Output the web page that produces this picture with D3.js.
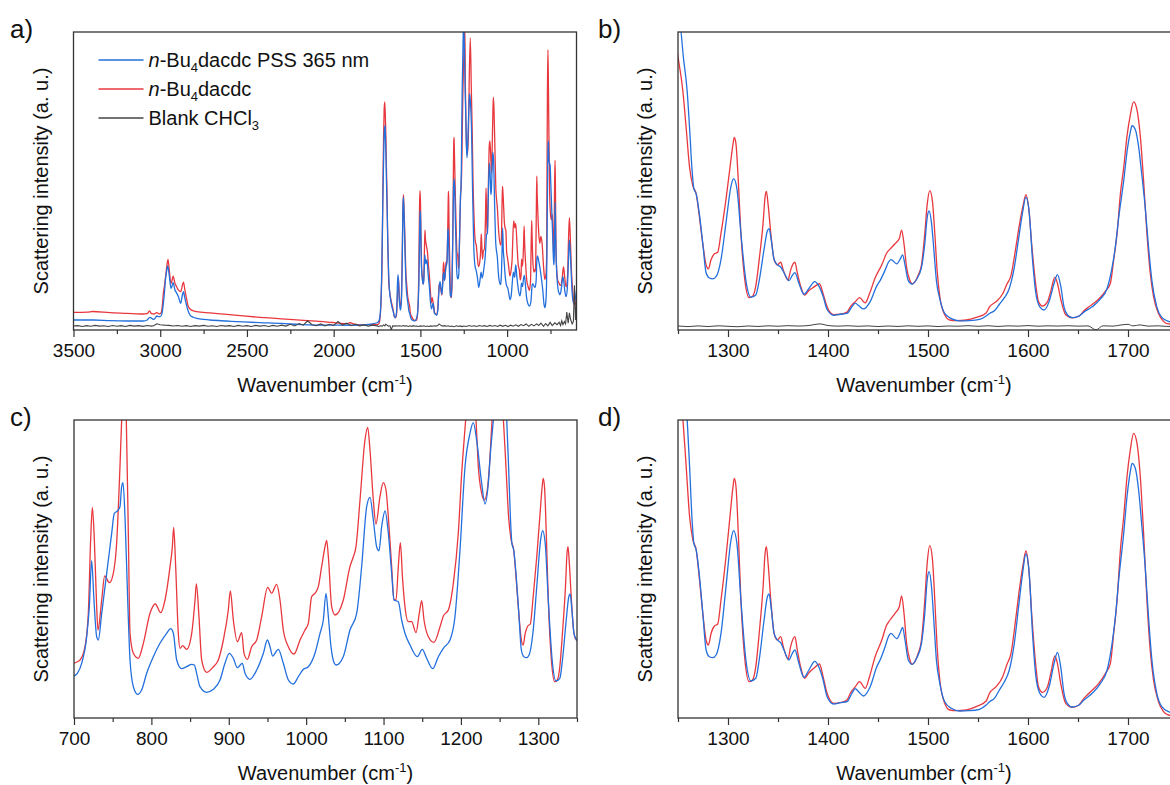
<!DOCTYPE html>
<html>
<head>
<meta charset="utf-8">
<script src="https://cdn.jsdelivr.net/npm/d3@7"></script>
<style>
  body { margin: 0; background: #fff; }
  svg text { font-family: "Liberation Sans", Arial, sans-serif; fill: #111; }
</style>
</head>
<body>
<div id="chart"></div>
<script>

// [wavenumber (cm-1), intensity (a. u.)]
const pssSpectrum = [
  [596, 52], [602, 42], [608, 34], [617, 29], [625, 42], [633, 80], [641, 109.5], [647, 80], [653, 48], [660, 37.6],
  [668, 46], [674, 58], [679, 63], [685, 52], [692, 42], [696, 40],
  [700, 42], [704.3, 44.7], [709.9, 54.7], [716.4, 81.3], [719.8, 111.3], [722.8, 157.3], [725.8, 118], [729.3, 81.3],
  [731.4, 78], [735.8, 104.7], [740.1, 131.3], [744.4, 158], [748.7, 184.7], [752.1, 204.7], [756.0, 207], [759.4, 211.3],
  [761.6, 231.3], [763.3, 235.3], [765.9, 201.3], [769.4, 118], [772.4, 58], [776.7, 31.3], [782.3, 23.7], [787.4, 28],
  [793.9, 44.7], [802.5, 61.3], [811.1, 74.7], [819.7, 84.7], [824.9, 89.3], [828.4, 84.7], [832.7, 58], [839.1, 49.3],
  [845.6, 51.3], [852.1, 53.7], [855.5, 53], [858.5, 44.7], [862.8, 31.3], [871.4, 25.7], [880.1, 28.7], [888.7, 38],
  [895.1, 54.7], [900.7, 64.7], [905.9, 59.7], [911.1, 50.3], [917.5, 54.7], [921.0, 44.7], [927.4, 38.7], [936.1, 48],
  [944.7, 64.7], [949.9, 78], [953.3, 71.3], [956.7, 62], [964.0, 68.7], [970.5, 54.7], [977.0, 38], [983.4, 34],
  [989.9, 41.3], [996.4, 48.7], [1002.8, 51.3], [1011.4, 64.7], [1017.9, 84.7], [1022.2, 98], [1025.6, 124.7], [1028.7, 101.3],
  [1032.1, 71.3], [1036.4, 54.7], [1038.6, 53], [1048.0, 61.3], [1056.6, 88], [1065.3, 104.7], [1071.7, 151.3], [1078.2, 211.3],
  [1082.5, 220.7], [1086.8, 198], [1091.1, 171.3], [1094.1, 167.3], [1097.6, 191.3], [1101.9, 207], [1106.2, 184.7], [1110.5, 144.7],
  [1113.5, 118], [1119.1, 116.3], [1123.4, 98], [1127.7, 84.7], [1134.2, 73], [1143.7, 61.3], [1150.1, 68.7], [1155.7, 59.7],
  [1163.5, 49.3], [1170.8, 61.3], [1177.3, 69.7], [1185.9, 78], [1192.3, 101.3], [1198.8, 168], [1205.3, 251.3], [1211.7, 284.7],
  [1216.0, 295.3], [1220.3, 278], [1226.8, 234.7], [1231.1, 214], [1235.4, 234.7], [1238.4, 268], [1241.9, 298], [1246.5, 355],
  [1251.5, 385], [1255.5, 340], [1259.2, 298], [1261.6, 251.3], [1263.9, 201.3], [1265.9, 174.7], [1268.2, 168], [1271.5, 141.3],
  [1274.8, 104.7], [1278.1, 68], [1281.4, 61.3], [1284.8, 60.3], [1288.1, 63], [1293.0, 84.7], [1298.0, 131.3], [1303.0, 178],
  [1305.6, 187.3], [1308.9, 174.7], [1312.9, 118], [1317.9, 58], [1322.9, 37], [1327.8, 39.7], [1331.2, 58], [1336.1, 98],
  [1339.4, 121.3], [1341.1, 124], [1343.4, 108], [1346.1, 84.7], [1349.4, 78], [1352.7, 75.3], [1356.0, 68], [1361.0, 58],
  [1364.3, 64.7], [1366.9, 68], [1370.9, 54.7], [1375.9, 40.7], [1380.9, 48], [1386.8, 56.7], [1390.8, 51.3], [1395.1, 38],
  [1399.1, 21.3], [1405.7, 14], [1412.3, 15.3], [1419.0, 16.3], [1423.9, 24.7], [1427.3, 29.3], [1430.6, 26.3], [1435.5, 22],
  [1442.2, 31.3], [1448.8, 51.3], [1452.1, 58], [1457.1, 71.3], [1460.4, 81.3], [1463.0, 84.7], [1468.7, 79.3], [1472.6, 86.3],
  [1474.6, 90.7], [1477.0, 78], [1480.3, 58], [1484.2, 53.7], [1488.6, 59.7], [1493.5, 74.7], [1496.8, 104.7], [1499.2, 138],
  [1501.1, 146.3], [1503.5, 131.3], [1505.8, 98], [1508.4, 58], [1511.8, 34.7], [1516.7, 16.3], [1523.4, 9.7], [1531.6, 7],
  [1541.6, 7.3], [1551.5, 8.7], [1558.2, 13], [1561.5, 16.3], [1566.4, 19.7], [1571.4, 28], [1576.4, 36.3], [1581.3, 48],
  [1586.3, 74.7], [1590.6, 111.3], [1594.6, 144.7], [1597.9, 164], [1601.2, 144.7], [1604.5, 84.7], [1607.9, 41.3], [1611.8, 24.7],
  [1616.1, 20.7], [1621.1, 31.3], [1626.1, 54.7], [1629.4, 65.7], [1632.7, 51.3], [1636.0, 24.7], [1639.3, 14.7], [1644.3, 11],
  [1651.0, 13], [1655.9, 18], [1664.2, 24.7], [1672.5, 34.7], [1679.1, 48], [1684.1, 74.7], [1687.4, 101.3], [1690.7, 138],
  [1695.7, 184.7], [1699.0, 221.3], [1702.3, 246.3], [1704.0, 254.7], [1707.3, 249.7], [1710.6, 228], [1713.9, 191.3], [1717.2, 151.3],
  [1720.5, 101.3], [1723.9, 58], [1728.8, 24.7], [1733.8, 11.3], [1740.4, 6.3], [1750, 4.5], [1800, 2.5], [1850, 1.5],
  [1900, 1.3], [2000, 1.5], [2100, 1.6], [2194, 2.2], [2300, 3.6], [2425, 4.6], [2521, 5.5], [2617, 6.7],
  [2713, 8], [2790, 10.1], [2810, 11.5], [2828, 14.3], [2840, 20], [2851, 29.1], [2860, 38], [2866, 43.9],
  [2872, 40], [2882, 29.1], [2895, 37.6], [2905, 42], [2915, 46.1], [2926, 55.4], [2932, 51], [2938, 48.2],
  [2947, 63], [2957, 76.5], [2963, 70], [2970, 58.8], [2976, 42], [2982, 29.1], [2990, 16], [3000, 12.2],
  [3008, 12.2], [3020, 13.1], [3030, 10], [3040, 8.8], [3060, 11.4], [3075, 8], [3097, 6.7], [3193, 6.7],
  [3290, 7.1], [3385, 8], [3500, 8]
]

const darkSpectrum = [
  [596, 40], [602, 33], [607, 28], [612, 27], [621, 42], [630, 75], [636, 115], [641, 138], [646, 110], [652, 62],
  [660, 50], [668, 62], [675, 75.6], [682, 62], [690, 52], [695, 52],
  [700, 54.7], [707.8, 58], [714.2, 71.3], [718.5, 104.7], [721.5, 178], [723.7, 210.7], [726.3, 178], [729.3, 111.3],
  [731.0, 88], [735.8, 118], [739.6, 142], [745.7, 135.3], [750.8, 144.7], [755.1, 174.7], [759.4, 251.3], [761.6, 298],
  [764.5, 351], [767.6, 298], [770.2, 184.7], [772.4, 84.7], [776.7, 64.7], [783.1, 59.7], [789.6, 74.7], [798.2, 104.7],
  [805.1, 114], [812.0, 105.3], [817.6, 118], [824.1, 151.3], [827.1, 171.3], [828.8, 190.7], [831.4, 151.3], [834.8, 84.7],
  [837.0, 69.7], [840.4, 72.3], [845.6, 68.7], [852.1, 84.7], [856.4, 118], [858.1, 134], [861.5, 101.3], [865.0, 58],
  [871.4, 45.7], [880.1, 51.3], [886.5, 58], [893.0, 78], [899.4, 108], [902.0, 127], [905.9, 98], [911.1, 76.3],
  [916.7, 85.3], [919.7, 64.7], [924.0, 58.7], [929.6, 71.3], [936.1, 78], [942.5, 101.3], [950.3, 130.7], [955.4, 124.7],
  [961.9, 133.7], [966.2, 118], [970.5, 88], [977.0, 71.3], [984.3, 64], [992.1, 78], [998.5, 88], [1002.8, 94.7],
  [1007.1, 121.3], [1011.4, 124.7], [1015.7, 131.3], [1020.0, 151.3], [1024.4, 171.3], [1026.5, 177.7], [1028.7, 161.3], [1033.0, 111.3],
  [1037.3, 103], [1048.0, 118], [1056.6, 151.3], [1061.0, 161.3], [1064.4, 171.3], [1069.6, 218], [1076.0, 278], [1079.5, 290.7],
  [1082.5, 268], [1086.8, 218], [1090.2, 194], [1095.4, 221.3], [1099.7, 235.3], [1103.2, 228], [1106.2, 201.3], [1110.5, 151.3],
  [1113.5, 118], [1116.1, 118], [1119.1, 151.3], [1121.7, 175.3], [1124.7, 138], [1127.7, 111.3], [1132.0, 96.3], [1136.3, 96.3],
  [1141.9, 85.3], [1146.2, 104.7], [1149.3, 117.3], [1152.3, 98], [1157.9, 81.3], [1165.2, 75.7], [1173.0, 91.3], [1177.3, 102],
  [1183.7, 108], [1190.2, 134.7], [1196.6, 184.7], [1201.0, 244.7], [1206.1, 298], [1212.5, 366], [1219.5, 298], [1222.5, 251.3],
  [1226.8, 224.7], [1230.2, 218], [1234.1, 228], [1237.6, 261.3], [1240.2, 298], [1244.5, 385], [1250, 342], [1254.9, 298],
  [1258.2, 251.3], [1261.6, 201.3], [1264.9, 178], [1268.2, 168], [1271.5, 138], [1274.8, 104.7], [1278.1, 78], [1280.4, 73],
  [1283.1, 84.7], [1286.4, 92], [1289.7, 94], [1293.0, 118], [1298.0, 161.3], [1302.3, 204.7], [1305.0, 231.3], [1306.3, 239.7],
  [1308.0, 231.3], [1310.3, 184.7], [1312.9, 118], [1316.9, 58], [1321.2, 36.3], [1324.5, 38], [1327.8, 51.3], [1331.2, 84.7],
  [1335.1, 131.3], [1337.1, 164.7], [1338.4, 171.3], [1340.1, 154.7], [1342.8, 118], [1346.1, 84.7], [1349.4, 78], [1352.7, 81.3],
  [1355.3, 71.3], [1360.0, 58.7], [1362.6, 71.3], [1366.9, 81.3], [1369.3, 68], [1372.6, 51.3], [1376.6, 39.7], [1380.9, 45.3],
  [1385.8, 49.7], [1391.5, 54], [1395.1, 41.3], [1399.1, 24.7], [1405.7, 14.7], [1412.3, 15.3], [1419.0, 18], [1422.3, 24.7],
  [1427.3, 31.3], [1431.6, 36.3], [1437.2, 29.7], [1441.5, 41.3], [1447.1, 61.3], [1453.8, 78], [1458.7, 93], [1462.0, 98],
  [1467.0, 104.7], [1471.3, 111.3], [1473.6, 122], [1476.0, 104.7], [1478.6, 74.7], [1481.9, 58], [1484.2, 53.7], [1486.9, 56.3],
  [1490.2, 64.7], [1493.5, 78], [1496.8, 118], [1499.2, 154.7], [1501.8, 172.3], [1504.5, 158], [1506.8, 118], [1509.1, 71.3],
  [1511.8, 38], [1516.7, 14.7], [1521.7, 8], [1528.3, 7.3], [1538.3, 8], [1548.2, 11.3], [1558.2, 17], [1561.5, 24.7],
  [1568.1, 31.3], [1574.7, 41.3], [1578.7, 53], [1583.0, 64.7], [1588.0, 101.3], [1591.3, 128], [1595.3, 154.7], [1597.9, 167],
  [1600.6, 151.3], [1603.9, 101.3], [1607.9, 51.3], [1610.5, 31.3], [1614.5, 25.7], [1619.5, 31.3], [1622.8, 44.7], [1626.8, 62],
  [1629.4, 54.7], [1632.7, 34.7], [1637.7, 14.7], [1644.3, 10.7], [1651.0, 13], [1655.9, 19.7], [1660.9, 24.7], [1670.8, 34.7],
  [1677.5, 44.7], [1682.4, 54.7], [1685.7, 84.7], [1689.1, 118], [1692.4, 168], [1695.7, 201.3], [1699.0, 241.3], [1702.3, 268],
  [1705.6, 284.7], [1709.0, 274.7], [1712.3, 241.3], [1715.6, 184.7], [1718.9, 118], [1722.2, 68], [1725.5, 38], [1730.5, 16.3],
  [1735.5, 6.3], [1740.4, 3], [1750, 2.2], [1800, 2], [1850, 1.8], [1880, 2.8], [1905, 4.5], [1925, 3.2],
  [1970, 4], [2003, 4.8], [2100, 6.5], [2194, 7.8], [2300, 9.5], [2425, 11.4], [2521, 13.1], [2617, 15.2],
  [2713, 17], [2790, 18.6], [2809, 19.6], [2828, 22], [2838, 25], [2851, 38], [2857, 45], [2866, 56],
  [2872, 52], [2882, 44], [2895, 46], [2910, 52], [2915, 54.5], [2926, 63.8], [2932, 58], [2938, 54.5],
  [2947, 69.3], [2955, 85], [2961, 78], [2967, 67], [2975, 52], [2982, 42], [2988, 26], [2995, 17],
  [3005, 15.6], [3020, 17.3], [3035, 15.6], [3050, 16], [3062, 19.4], [3075, 16], [3097, 15.6], [3193, 16.5],
  [3290, 17.3], [3390, 18.8], [3420, 18], [3500, 17.7]
]

const blankSpectrum = [
  [596, 34], [600, 30], [606, 8], [612, 52], [618, 6], [625, 3], [633, 8], [641, 17], [648, 4], [656, 18],
  [663, 3], [670, 6], [678, 2], [685, 7], [692, 1], [700, 5], [712, 2], [725, 4.5], [740, 1], [752, 5],
  [765, 0.5], [778, 3.5], [790, 0], [805, 4], [818, 1], [830, 3], [845, 0.5], [860, 2.5], [875, 0], [890, 3],
  [905, 0.8], [920, 2.2], [935, 0], [950, 1.8], [965, 0.2], [980, 1.5], [995, -0.3], [1010, 1.2], [1025, 0], [1040, 1.4],
  [1055, -0.2], [1070, 0.9], [1085, 0.1], [1100, 1.1], [1115, -0.3], [1130, 0.8], [1145, 0], [1160, 1], [1175, -0.2], [1190, 0.7],
  [1205, 0.1], [1220, 0.9], [1235, -0.2], [1250, 0.4], [1260, -0.4], [1270, 0.5], [1280, -0.3], [1290, 0.6], [1300, 0], [1310, -0.5],
  [1320, 0.4], [1330, -0.2], [1340, 0.6], [1350, 0.1], [1360, 0.8], [1370, 0.3], [1380, 0.9], [1392, 3], [1400, 1], [1410, 0.2],
  [1420, 0.7], [1430, 0], [1440, 0.5], [1450, -0.3], [1460, 0.4], [1470, -0.2], [1480, 0.6], [1490, 0], [1500, 0.5], [1510, -0.3],
  [1520, 0.4], [1530, 0.1], [1540, 0.8], [1550, 0], [1560, 0.7], [1570, -0.2], [1580, 0.6], [1590, 0.2], [1600, 0.9], [1610, 0.1],
  [1620, 0.6], [1630, 0.3], [1640, 0.7], [1650, 0.2], [1660, 0.5], [1668, -4.5], [1675, 0.6], [1685, 0.2], [1692, 1.5], [1700, 2.5],
  [1705, 0.5], [1712, 1.8], [1720, 0.2], [1730, 0.6], [1740, -0.2], [1750, 0.5], [1775, 1.5], [1800, 0.3], [1825, 1.8], [1850, 0.6],
  [1875, 2.5], [1900, 0.8], [1925, 4], [1950, 1.5], [1975, 6], [2000, 1], [2025, 2.5], [2050, 0.5], [2075, 3], [2100, 0.8],
  [2125, 2], [2150, 7], [2175, 1.5], [2200, 3.5], [2225, 0.5], [2250, 2.5], [2275, 0.3], [2300, 1.5], [2325, 0], [2350, 1.2],
  [2375, -0.2], [2400, 1], [2425, 0.2], [2450, 1.1], [2475, -0.3], [2500, 0.9], [2525, 0.1], [2550, 1.2], [2575, -0.2], [2600, 0.8],
  [2625, 0.2], [2650, 1], [2675, -0.3], [2700, 0.7], [2725, 0], [2750, 1.1], [2775, 0.2], [2800, 0.9], [2825, -0.2], [2850, 0.8],
  [2875, 0.1], [2900, 1], [2925, 0.3], [2950, 1.2], [2975, 1.5], [3000, 2], [3019, 3.2], [3035, 1], [3050, 0.2], [3075, 1],
  [3100, -0.1], [3125, 0.9], [3150, 0.2], [3175, 1.1], [3200, -0.2], [3225, 0.8], [3250, 0.1], [3275, 1], [3300, -0.3], [3325, 0.7],
  [3350, 0.2], [3375, 1.1], [3400, 0], [3425, 0.8], [3450, -0.2], [3475, 0.9], [3500, 0.3]
]

const overviewTicks = [3500, 3000, 2500, 2000, 1500, 1000]
const overviewMinor = [3250, 2750, 2250, 1750, 1250, 750]
const lowTicks = [700, 800, 900, 1000, 1100, 1200, 1300]
const lowMinor = [750, 850, 950, 1050, 1150, 1250, 1350]
const highTicks = [1300, 1400, 1500, 1600, 1700]
const highMinor = [1250, 1350, 1450, 1550, 1650, 1750]

const pssColor = "#2370dd"
const darkColor = "#e8383e"
const blankColor = "#444"

const svg = d3.select("#chart")
  .append("svg")
  .attr("width", 1170)
  .attr("height", 785)

// panel layout in px
const panels = [
  {id: "a", letter: "a)", left: 73.5, top: 32, width: 503, height: 298, xDomain: [3500, 600], yDomain: [-4.7, 373.5],
   ticks: overviewTicks, minor: overviewMinor, blank: true, blankCurve: d3.curveLinear, legend: true},
  {id: "b", letter: "b)", left: 678, top: 32, width: 500, height: 298, xDomain: [1250, 1750], yDomain: [-4.7, 373.5],
   ticks: highTicks, minor: highMinor, blank: true, blankCurve: d3.curveMonotoneX},
  {id: "c", letter: "c)", left: 74, top: 420, width: 503, height: 298, xDomain: [700, 1350], yDomain: [0, 298],
   ticks: lowTicks, minor: lowMinor},
  {id: "d", letter: "d)", left: 678, top: 420, width: 500, height: 298, xDomain: [1250, 1750], yDomain: [0, 298],
   ticks: highTicks, minor: highMinor}
]

function drawPanel(p) {
  const root = svg.append("g")
    .attr("transform", "translate(" + p.left + "," + p.top + ")")

  const x = d3.scaleLinear().domain(p.xDomain).range([0, p.width])
  const y = d3.scaleLinear().domain(p.yDomain).range([p.height, 0])

  root.append("clipPath")
    .attr("id", "clip-" + p.id)
    .append("rect")
    .attr("width", p.width)
    .attr("height", p.height)

  const plot = root.append("g").attr("clip-path", "url(#clip-" + p.id + ")")

  const lo = d3.min(p.xDomain) - 15
  const hi = d3.max(p.xDomain) + 15
  const prep = data => data.filter(d => d[0] >= lo && d[0] <= hi)
    .sort((a, b) => x(a[0]) - x(b[0]))

  const line = d3.line()
    .x(d => x(d[0]))
    .y(d => y(d[1]))
    .curve(d3.curveMonotoneX)

  plot.append("path")
    .attr("d", line(prep(darkSpectrum)))
    .attr("fill", "none")
    .attr("stroke", darkColor)
    .attr("stroke-width", 1.3)

  plot.append("path")
    .attr("d", line(prep(pssSpectrum)))
    .attr("fill", "none")
    .attr("stroke", pssColor)
    .attr("stroke-width", 1.3)

  if (p.blank) {
    plot.append("path")
      .attr("d", line.curve(p.blankCurve)(prep(blankSpectrum)))
      .attr("fill", "none")
      .attr("stroke", blankColor)
      .attr("stroke-width", p.id == "a" ? 1.1 : 1)
  }

  // minor ticks
  root.append("g")
    .attr("transform", "translate(0," + p.height + ")")
    .call(d3.axisBottom(x).tickValues(p.minor).tickSize(4).tickSizeOuter(0).tickFormat(""))
    .call(g => g.select(".domain").remove())
    .selectAll("line").attr("stroke", "#333").attr("stroke-width", 1.2)

  // major ticks + labels
  const ax = root.append("g")
    .attr("transform", "translate(0," + p.height + ")")
    .call(d3.axisBottom(x).tickValues(p.ticks).tickSize(7).tickSizeOuter(0).tickPadding(7).tickFormat(d3.format("d")))
  ax.select(".domain").remove()
  ax.selectAll("line").attr("stroke", "#333").attr("stroke-width", 1.2)
  ax.selectAll("text")
    .attr("font-family", "Liberation Sans, Arial, sans-serif")
    .attr("font-size", 19)
    .attr("fill", "#111")

  // frame
  root.append("rect")
    .attr("width", p.width)
    .attr("height", p.height)
    .attr("fill", "none")
    .attr("stroke", "#333")
    .attr("stroke-width", 1.3)

  // x title
  const xt = root.append("text")
    .attr("x", p.id == "b" || p.id == "d" ? 246 : p.width / 2)
    .attr("y", p.height + 62)
    .attr("text-anchor", "middle")
    .attr("font-size", 20)
  xt.append("tspan").text("Wavenumber (cm")
  xt.append("tspan").attr("font-size", 13).attr("dy", -8).text("-1")
  xt.append("tspan").attr("dy", 8).text(")")

  // y title
  root.append("text")
    .attr("transform", "translate(-26," + (p.height / 2) + ") rotate(-90)")
    .attr("text-anchor", "middle")
    .attr("font-size", 20)
    .text("Scattering intensity (a. u.)")

  // panel letter
  svg.append("text")
    .attr("x", p.left < 300 ? 10 : 598)
    .attr("y", p.top + 6)
    .attr("font-size", 26)
    .text(p.letter)

  if (p.legend) {
    const items = [
      {color: pssColor, parts: ["n", "-Bu", "4", "dacdc PSS 365 nm"]},
      {color: darkColor, parts: ["n", "-Bu", "4", "dacdc"]},
      {color: blankColor, parts: ["", "Blank CHCl", "3", ""]}
    ]
    const leg = root.append("g").attr("transform", "translate(25,28)")
    items.forEach((it, i) => {
      const row = leg.append("g").attr("transform", "translate(0," + (i * 29) + ")")
      row.append("line")
        .attr("x1", 0).attr("x2", 45)
        .attr("stroke", it.color)
        .attr("stroke-width", 1.3)
      const t = row.append("text").attr("x", 50).attr("y", 7).attr("font-size", 20)
      t.append("tspan").attr("font-style", "italic").text(it.parts[0])
      t.append("tspan").text(it.parts[1])
      t.append("tspan").attr("font-size", 13).attr("dy", 5).text(it.parts[2])
      t.append("tspan").attr("dy", -5).text(it.parts[3])
    })
  }
}

panels.forEach(drawPanel)

</script>
</body>
</html>
